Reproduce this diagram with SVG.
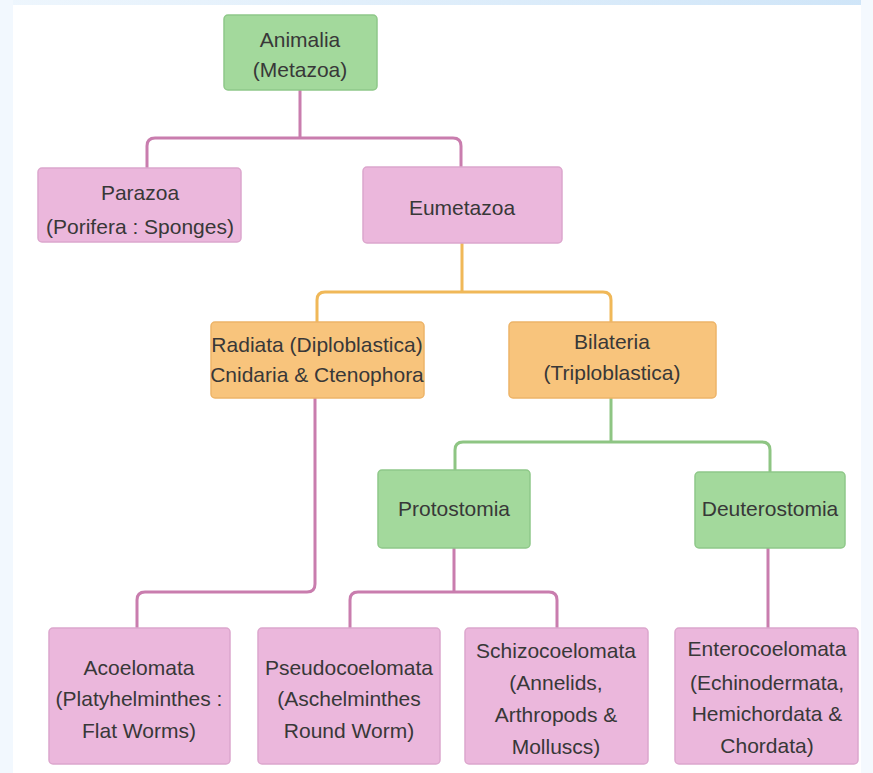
<svg xmlns="http://www.w3.org/2000/svg" width="873" height="773" viewBox="0 0 873 773">
<defs>
<linearGradient id="topband" x1="0" y1="0" x2="1" y2="0">
<stop offset="0" stop-color="#eef6fd"/>
<stop offset="1" stop-color="#cfe5f8"/>
</linearGradient>
</defs>
<style>
.box{stroke-width:1.5}
.pink{fill:#ebb7dc;stroke:#dca6cd}
.green{fill:#a3d99c;stroke:#8fc889}
.orange{fill:#f8c47c;stroke:#edb468}
text{font-family:"Liberation Sans",Arial,sans-serif;font-size:21px;fill:#383838;text-anchor:middle}
.c{fill:none;stroke-width:3;stroke-linejoin:round}
.cp{stroke:#c97dae}
.co{stroke:#f0b858}
.cg{stroke:#8ec583}
</style>
<rect x="0" y="0" width="873" height="773" fill="#ffffff"/>
<rect x="0" y="0" width="873" height="5" fill="url(#topband)"/>
<rect x="0" y="0" width="13" height="773" fill="#f2f8fe"/>
<rect x="861" y="0" width="12" height="773" fill="#f4f9fe"/>

<g id="connectors">
<path class="c cp" d="M300 90 V138 M147 168 V146 Q147 138 155 138 H453 Q461 138 461 146 V167"/>
<path class="c co" d="M462 243 V292 M317 322 V300 Q317 292 325 292 H603 Q611 292 611 300 V322"/>
<path class="c cg" d="M611 398 V442 M455 470 V450 Q455 442 463 442 H762 Q770 442 770 450 V472"/>
<path class="c cp" d="M315 398 V584 Q315 592 307 592 H145 Q137 592 137 600 V628"/>
<path class="c cp" d="M454 548 V592 M350 628 V600 Q350 592 358 592 H549 Q557 592 557 600 V628"/>
<path class="c cp" d="M768 548 V628"/>
</g>

<g id="animalia">
<rect class="box green" x="224" y="15" width="153" height="75" rx="4"/>
<text x="300" y="47">Animalia</text>
<text x="300" y="77">(Metazoa)</text>
</g>
<g id="parazoa">
<rect class="box pink" x="38" y="168" width="203" height="74" rx="4"/>
<text x="140" y="200">Parazoa</text>
<text x="140" y="234">(Porifera : Sponges)</text>
</g>
<g id="eumetazoa">
<rect class="box pink" x="363" y="167" width="199" height="76" rx="4"/>
<text x="462" y="215">Eumetazoa</text>
</g>
<g id="radiata">
<rect class="box orange" x="211" y="322" width="213" height="76" rx="4"/>
<text x="317" y="352">Radiata (Diploblastica)</text>
<text x="317" y="382">Cnidaria &amp; Ctenophora</text>
</g>
<g id="bilateria">
<rect class="box orange" x="509" y="322" width="207" height="76" rx="4"/>
<text x="612" y="349">Bilateria</text>
<text x="612" y="380">(Triploblastica)</text>
</g>
<g id="protostomia">
<rect class="box green" x="378" y="470" width="152" height="78" rx="4"/>
<text x="454" y="516">Protostomia</text>
</g>
<g id="deuterostomia">
<rect class="box green" x="695" y="472" width="150" height="76" rx="4"/>
<text x="770" y="516">Deuterostomia</text>
</g>
<g id="acoelomata">
<rect class="box pink" x="49" y="628" width="181" height="136" rx="4"/>
<text x="139" y="675">Acoelomata</text>
<text x="139" y="706">(Platyhelminthes :</text>
<text x="139" y="738">Flat Worms)</text>
</g>
<g id="pseudocoelomata">
<rect class="box pink" x="258" y="628" width="182" height="136" rx="4"/>
<text x="349" y="675">Pseudocoelomata</text>
<text x="349" y="706">(Aschelminthes</text>
<text x="349" y="738">Round Worm)</text>
</g>
<g id="schizocoelomata">
<rect class="box pink" x="465" y="628" width="183" height="136" rx="4"/>
<text x="556" y="658">Schizocoelomata</text>
<text x="556" y="690">(Annelids,</text>
<text x="556" y="722">Arthropods &amp;</text>
<text x="556" y="754">Molluscs)</text>
</g>
<g id="enterocoelomata">
<rect class="box pink" x="675" y="628" width="183" height="136" rx="4"/>
<text x="767" y="656">Enterocoelomata</text>
<text x="767" y="690">(Echinodermata,</text>
<text x="767" y="721">Hemichordata &amp;</text>
<text x="767" y="753">Chordata)</text>
</g>
</svg>
